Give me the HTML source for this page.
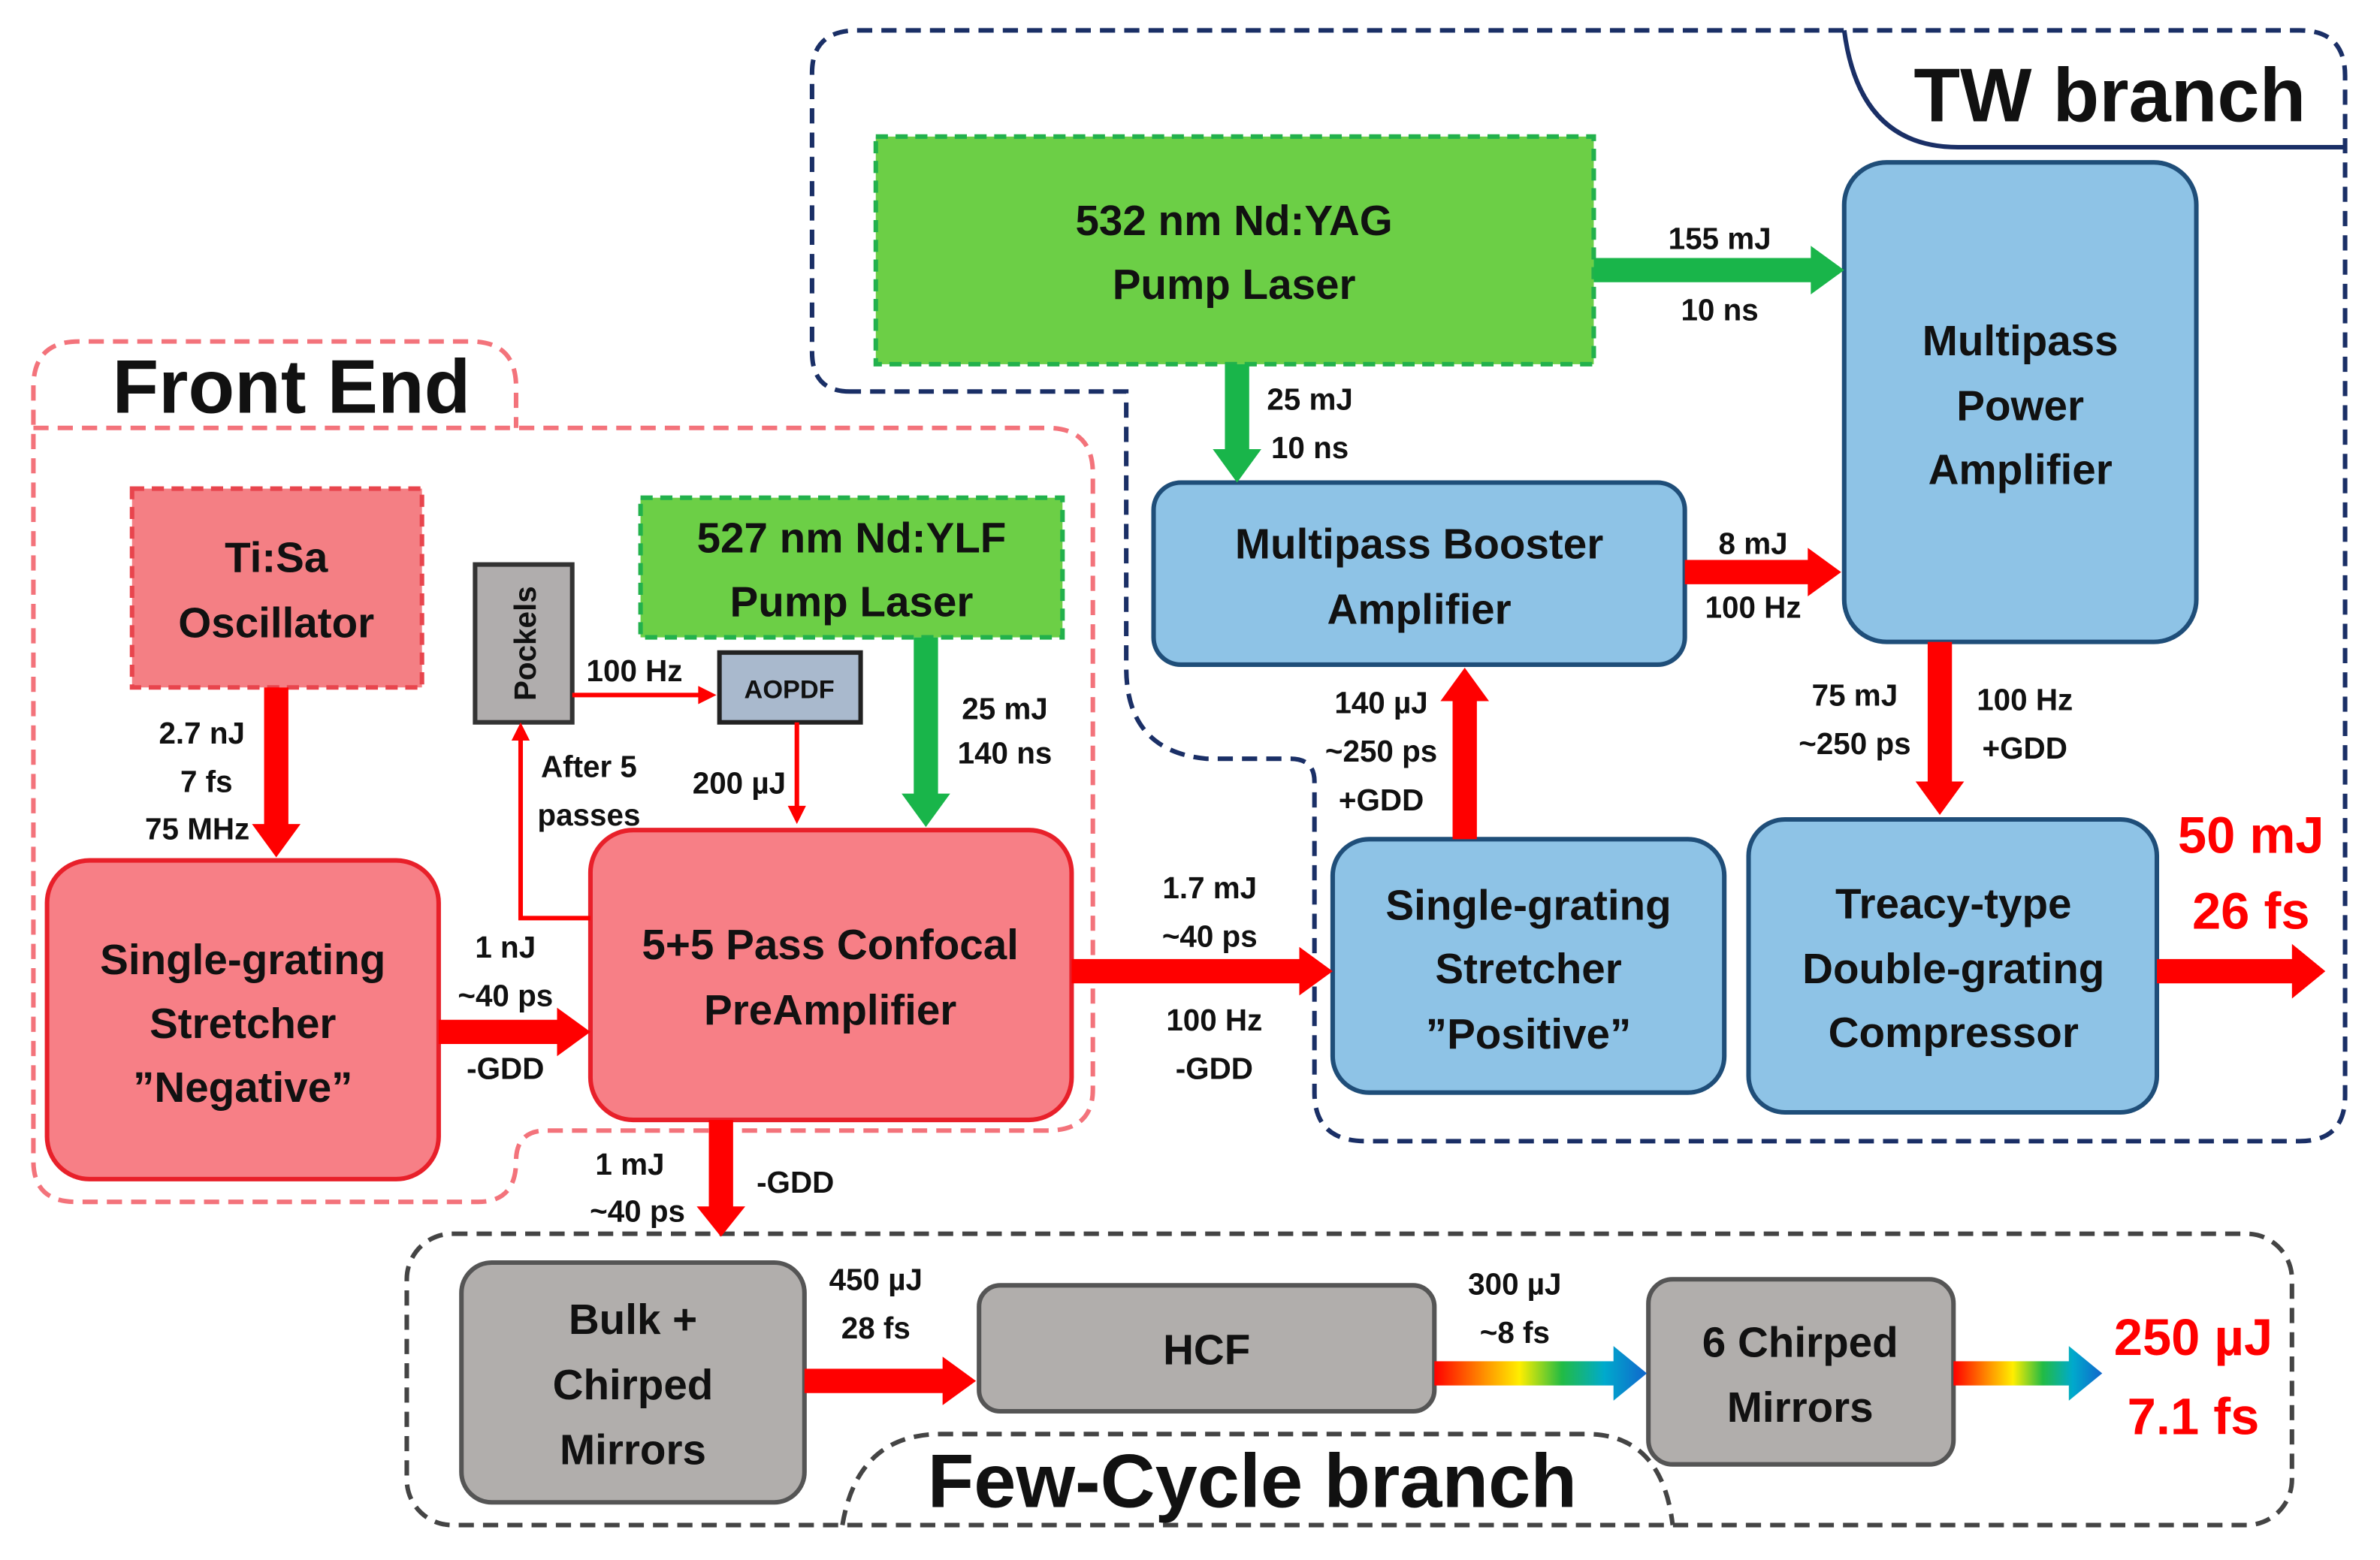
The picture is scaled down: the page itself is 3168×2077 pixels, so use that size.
<!DOCTYPE html>
<html><head><meta charset="utf-8"><style>
html,body{margin:0;padding:0;background:#fff}
svg{display:block}
text{font-family:"Liberation Sans",sans-serif;font-weight:bold;text-anchor:middle;fill:#111}
.m{font-size:28px}
.s{font-size:20px}
.r{fill:#f00;font-size:34px}
.big{font-size:50px}
</style></head><body>
<svg width="3168" height="2077" viewBox="0 0 1568 1028" preserveAspectRatio="none" xmlns="http://www.w3.org/2000/svg">
<path d="M560,258 Q535,258 535,232 L535,48 Q535,20 565,20 L1515,20 Q1545,20 1545,50 L1545,722 Q1545,752 1515,752 L900,752 Q866,752 866,720 L866,515 Q866,500 850,500 L795,500 Q742,495 742,440 L742,258 Z" fill="none" stroke="#1a2f66" stroke-width="3" stroke-dasharray="10,6"/>
<path d="M1215,20 Q1225,97 1290,97 L1545,97" fill="none" stroke="#1a2f66" stroke-width="3"/>
<text x="1390" y="80" class="big">TW branch</text>
<path d="M22,282 L690,282 Q720,282 720,312 L720,718 Q720,745 690,745 L360,745 Q340,745 340,765 Q340,792 315,792 L50,792 Q22,792 22,765 L22,255 Q22,225 52,225 L310,225 Q340,225 340,255 L340,282" fill="none" stroke="#f3737b" stroke-width="3" stroke-dasharray="10,6"/>
<text x="192" y="272" class="big">Front End</text>
<rect x="268" y="813" width="1242" height="192" rx="30" fill="none" stroke="#444" stroke-width="3" stroke-dasharray="10,6"/>
<path d="M555,1005 Q565,945 620,945 L1045,945 Q1095,945 1102,1005" fill="none" stroke="#444" stroke-width="3" stroke-dasharray="10,6"/>
<text x="825" y="993" style="font-size:50px">Few-Cycle branch</text>

<rect x="577" y="90" width="473" height="150" fill="#6ccf46" stroke="#22b14c" stroke-width="3" stroke-dasharray="8,5"/>
<text x="813" y="155" class="m">532 nm Nd:YAG</text><text x="813" y="197" class="m">Pump Laser</text>
<rect x="422" y="328" width="278" height="92" fill="#6ccf46" stroke="#22b14c" stroke-width="3" stroke-dasharray="8,5"/>
<text x="561" y="364" class="m">527 nm Nd:YLF</text><text x="561" y="406" class="m">Pump Laser</text>

<rect x="760" y="318" width="350" height="120" rx="18" fill="#8ec3e6" stroke="#1f4e79" stroke-width="3"/>
<text x="935" y="368" class="m">Multipass Booster</text><text x="935" y="411" class="m">Amplifier</text>
<rect x="1215" y="107" width="232" height="316" rx="28" fill="#8ec3e6" stroke="#1f4e79" stroke-width="3"/>
<text x="1331" y="234" class="m">Multipass</text><text x="1331" y="277" class="m">Power</text><text x="1331" y="319" class="m">Amplifier</text>
<rect x="1152" y="540" width="269" height="193" rx="24" fill="#8ec3e6" stroke="#1f4e79" stroke-width="3"/>
<text x="1287" y="605" class="m">Treacy-type</text><text x="1287" y="648" class="m">Double-grating</text><text x="1287" y="690" class="m">Compressor</text>
<rect x="878" y="553" width="258" height="167" rx="24" fill="#8ec3e6" stroke="#1f4e79" stroke-width="3"/>
<text x="1007" y="606" class="m">Single-grating</text><text x="1007" y="648" class="m">Stretcher</text><text x="1007" y="691" class="m">”Positive”</text>

<rect x="87" y="322" width="191" height="131" fill="#f47f84" stroke="#e8454d" stroke-width="3" stroke-dasharray="8,5"/>
<text x="182" y="377" class="m">Ti:Sa</text><text x="182" y="420" class="m">Oscillator</text>
<rect x="31" y="567" width="258" height="210" rx="28" fill="#f77f86" stroke="#e8202a" stroke-width="3"/>
<text x="160" y="642" class="m">Single-grating</text><text x="160" y="684" class="m">Stretcher</text><text x="160" y="726" class="m">”Negative”</text>
<rect x="389" y="547" width="317" height="191" rx="28" fill="#f77f86" stroke="#e8202a" stroke-width="3"/>
<text x="547" y="632" class="m">5+5 Pass Confocal</text><text x="547" y="675" class="m">PreAmplifier</text>

<rect x="313" y="372" width="64" height="104" fill="#b0adad" stroke="#333" stroke-width="3"/>
<text x="353" y="424" transform="rotate(-90 353 424)" style="font-size:20px">Pockels</text>
<rect x="474" y="430" width="93" height="46" fill="#a9b9cd" stroke="#222" stroke-width="3"/>
<text x="520" y="460" style="font-size:17px">AOPDF</text>

<rect x="304" y="832" width="226" height="158" rx="20" fill="#b1aeac" stroke="#555" stroke-width="3"/>
<text x="417" y="879" class="m">Bulk +</text><text x="417" y="922" class="m">Chirped</text><text x="417" y="965" class="m">Mirrors</text>
<rect x="645" y="847" width="300" height="83" rx="14" fill="#b1aeac" stroke="#555" stroke-width="3"/>
<text x="795" y="899" class="m">HCF</text>
<rect x="1086" y="843" width="201" height="122" rx="16" fill="#b1aeac" stroke="#555" stroke-width="3"/>
<text x="1186" y="894" class="m">6 Chirped</text><text x="1186" y="937" class="m">Mirrors</text>

<polygon points="1050,170 1193,170 1193,162 1215,178 1193,194 1193,186 1050,186" fill="#19b54a"/>
<polygon points="807,240 823,240 823,296 831,296 815,318 799,296 807,296" fill="#19b54a"/>
<polygon points="602,420 618,420 618,523 626,523 610,545 594,523 602,523" fill="#19b54a"/>

<g fill="#f00">
<polygon points="1110,369 1191,369 1191,361 1213,377 1191,393 1191,385 1110,385"/>
<polygon points="1270,423 1286,423 1286,515 1294,515 1278,537 1262,515 1270,515"/>
<polygon points="1421,632 1510,632 1510,622 1532,640 1510,658 1510,648 1421,648"/>
<polygon points="957,553 973,553 973,462 981,462 965,440 949,462 957,462"/>
<polygon points="706,632 856,632 856,624 878,640 856,656 856,648 706,648"/>
<polygon points="174,453 190,453 190,543 198,543 182,565 166,543 174,543"/>
<polygon points="289,672 367,672 367,664 389,680 367,696 367,688 289,688"/>
<polygon points="467,738 483,738 483,795 491,795 475,815 459,795 467,795"/>
<polygon points="530,902 621,902 621,894 643,910 621,926 621,918 530,918"/>
</g>
<g stroke="#f00" stroke-width="3" fill="none">
<line x1="377" y1="458" x2="462" y2="458"/>
<line x1="525" y1="476" x2="525" y2="533"/>
<polyline points="389,605 343,605 343,486"/>
</g>
<g fill="#f00">
<polygon points="472,458 460,452 460,464"/>
<polygon points="525,543 519,531 531,531"/>
<polygon points="343,476 337,488 349,488"/>
</g>

<defs>
<linearGradient id="rb" x1="0" x2="1" y1="0" y2="0">
<stop offset="0" stop-color="#f00"/><stop offset="0.25" stop-color="#ff9900"/><stop offset="0.4" stop-color="#ffee00"/><stop offset="0.6" stop-color="#22bb44"/><stop offset="0.8" stop-color="#00aacc"/><stop offset="1" stop-color="#1166cc"/>
</linearGradient>
</defs>
<polygon points="945,897 1063,897 1063,887 1085,905 1063,923 1063,913 945,913" fill="url(#rb)"/>
<polygon points="1287,897 1363,897 1363,887 1385,905 1363,923 1363,913 1287,913" fill="url(#rb)"/>

<g class="s">
<text x="1133" y="164" class="s">155 mJ</text><text x="1133" y="211" class="s">10 ns</text>
<text x="863" y="270" class="s">25 mJ</text><text x="863" y="302" class="s">10 ns</text>
<text x="1155" y="365" class="s">8 mJ</text><text x="1155" y="407" class="s">100 Hz</text>
<text x="1222" y="465" class="s">75 mJ</text><text x="1222" y="497" class="s">~250 ps</text>
<text x="1334" y="468" class="s">100 Hz</text><text x="1334" y="500" class="s">+GDD</text>
<text x="910" y="470" class="s">140 µJ</text><text x="910" y="502" class="s">~250 ps</text><text x="910" y="534" class="s">+GDD</text>
<text x="797" y="592" class="s">1.7 mJ</text><text x="797" y="624" class="s">~40 ps</text>
<text x="800" y="679" class="s">100 Hz</text><text x="800" y="711" class="s">-GDD</text>
<text x="133" y="490" class="s">2.7 nJ</text><text x="136" y="522" class="s">7 fs</text><text x="130" y="553" class="s">75 MHz</text>
<text x="333" y="631" class="s">1 nJ</text><text x="333" y="663" class="s">~40 ps</text><text x="333" y="711" class="s">-GDD</text>
<text x="662" y="474" class="s">25 mJ</text><text x="662" y="503" class="s">140 ns</text>
<text x="418" y="449" class="s">100 Hz</text>
<text x="487" y="523" class="s">200 µJ</text>
<text x="388" y="512" class="s">After 5</text><text x="388" y="544" class="s">passes</text>
<text x="415" y="774" class="s">1 mJ</text><text x="420" y="805" class="s">~40 ps</text><text x="524" y="786" class="s">-GDD</text>
<text x="577" y="850" class="s">450 µJ</text><text x="577" y="882" class="s">28 fs</text>
<text x="998" y="853" class="s">300 µJ</text><text x="998" y="885" class="s">~8 fs</text>
</g>
<text x="1483" y="562" class="r">50 mJ</text><text x="1483" y="612" class="r">26 fs</text>
<text x="1445" y="893" class="r">250 µJ</text><text x="1445" y="945" class="r">7.1 fs</text>
</svg>
</body></html>
